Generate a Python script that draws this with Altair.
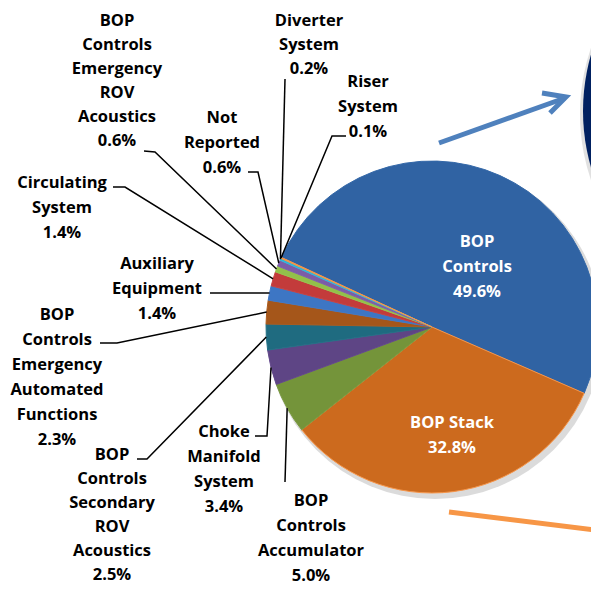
import math
import altair as alt
import pandas as pd

# ---------------- data ----------------
categories = [
    "BOP Controls", "BOP Stack", "BOP Controls Accumulator", "Choke Manifold System",
    "BOP Controls Secondary ROV Acoustics", "BOP Controls Emergency Automated Functions",
    "Auxiliary Equipment", "Circulating System", "BOP Controls Emergency ROV Acoustics",
    "Not Reported", "Diverter System", "Riser System",
]
values = [49.6, 32.8, 5.0, 3.4, 2.5, 2.3, 1.4, 1.4, 0.6, 0.6, 0.2, 0.1]
label_lines = [
    "BOP\nControls\n49.6%", "BOP Stack\n32.8%", "BOP\nControls\nAccumulator\n5.0%",
    "Choke\nManifold\nSystem\n3.4%", "BOP\nControls\nSecondary\nROV\nAcoustics\n2.5%",
    "BOP\nControls\nEmergency\nAutomated\nFunctions\n2.3%", "Auxiliary\nEquipment\n1.4%",
    "Circulating\nSystem\n1.4%", "BOP\nControls\nEmergency\nROV\nAcoustics\n0.6%",
    "Not\nReported\n0.6%", "Diverter\nSystem\n0.2%", "Riser\nSystem\n0.1%",
]

# ---------------- styles / layout ----------------
fill_colors = ["#3063a3", "#cc6a1e", "#74943a", "#5e4585", "#1f6b80", "#a5561a",
               "#3d76c4", "#c33b3b", "#92c04a", "#7c5ca8", "#2eb3d6", "#f5923e"]
stroke_colors = ["#3468a8", "#f7964a", "#7a9a40", "#64498c", "#247186", "#ab5b1e",
                 "#4279c6", "#c84242", "#98c450", "#8060ab", "#36b8da", "#f79646"]
label_colors = ["white", "white"] + ["black"] * 10
# labels near the page edges use a slightly tighter line height
edge_label = [0, 0, 0, 0, 1, 0, 0, 0, 1, 0, 1, 0]

OFF = 8  # page margin
W, H = 583, 577
CX, CY, R = 432 - OFF, 327 - OFF, 166
START_DEG = -65.2

# label anchor (center x, first baseline y) in page px
label_x = [477, 452, 311, 224, 112, 57, 157, 62, 117, 222, 309, 368]
label_y = [247, 428, 506, 437, 460, 320, 269, 188, 26, 123, 26, 87]
# leader line points near label (page px); None for in-slice labels
leader_pts = [
    None, None,
    [(285, 482)],
    [(255, 436), (267, 436)],
    [(137, 459), (147, 459)],
    [(100, 343), (117, 343)],
    [(210, 293)],
    [(113, 187), (125, 187)],
    [(144, 151), (155, 152)],
    [(248, 172), (258, 172)],
    [(285, 79)],
    [(346, 136), (332, 136)],
]

total = sum(values)
cum = 0.0
edge = []
for v in values:
    mid = START_DEG + (cum + v / 2) / total * 360.0
    cum += v
    a = math.radians(mid)
    edge.append((CX + R * math.sin(a), CY - R * math.cos(a)))

pie_df = pd.DataFrame({"cat": categories, "value": values, "idx": list(range(len(values)))})

text_df = pd.DataFrame({
    "txt": label_lines,
    "x": [x - OFF for x in label_x],
    "y": [y - OFF for y in label_y],
    "col": label_colors,
    "edge": edge_label,
})

rows = []
for i, pts in enumerate(leader_pts):
    if pts is None:
        continue
    seq = 0
    for (px, py) in pts:
        rows.append({"cat": categories[i], "seq": seq, "x": px - OFF, "y": py - OFF})
        seq += 1
    rows.append({"cat": categories[i], "seq": seq, "x": edge[i][0], "y": edge[i][1]})
leader_df = pd.DataFrame(rows)

# arrows (page px)
arrow_rows = [
    {"a": "blue_shaft", "seq": 0, "x": 439, "y": 143},
    {"a": "blue_shaft", "seq": 1, "x": 565, "y": 98},
    {"a": "blue_head", "seq": 0, "x": 542, "y": 93},
    {"a": "blue_head", "seq": 1, "x": 566, "y": 97},
    {"a": "blue_head", "seq": 2, "x": 550, "y": 113},
    {"a": "orange_shaft", "seq": 0, "x": 449, "y": 512},
    {"a": "orange_shaft", "seq": 1, "x": 603, "y": 531},
    {"a": "orange_head", "seq": 0, "x": 595, "y": 520},
    {"a": "orange_head", "seq": 1, "x": 606, "y": 532},
    {"a": "orange_head", "seq": 2, "x": 593, "y": 540},
]
arrow_df = pd.DataFrame(arrow_rows)
arrow_df["x"] = arrow_df["x"] - OFF
arrow_df["y"] = arrow_df["y"] - OFF
arrow_df["grp"] = arrow_df["a"].str.split("_").str[0]

one = pd.DataFrame({"k": [0]})
FONT = "Open Sans"
FS = 16.5

navy = alt.Chart(one).mark_arc(theta=0, theta2=2 * math.pi, outerRadius=203,
                               color="#002060").encode(
    x=alt.value(786 - OFF), y=alt.value(111 - OFF))
navy_shadow = alt.Chart(one).mark_arc(theta=0, theta2=2 * math.pi, outerRadius=205,
                                      color="#888888", opacity=0.25).encode(
    x=alt.value(786 - OFF - 1), y=alt.value(111 - OFF + 3))

pie_shadow = alt.Chart(one).mark_arc(theta=0, theta2=2 * math.pi, outerRadius=R + 2,
                                     color="#999999", opacity=0.35).encode(
    x=alt.value(CX + 3), y=alt.value(CY + 4))

start = math.radians(START_DEG)
pie = alt.Chart(pie_df).mark_arc(outerRadius=R, strokeWidth=1).encode(
    theta=alt.Theta("value:Q", stack=True,
                    scale=alt.Scale(range=[start, start + 2 * math.pi])),
    order=alt.Order("idx:Q"),
    color=alt.Color("cat:N", scale=alt.Scale(domain=categories, range=fill_colors), legend=None),
    stroke=alt.Stroke("cat:N", scale=alt.Scale(domain=categories, range=stroke_colors), legend=None),
    x=alt.value(CX), y=alt.value(CY),
)

leaders = alt.Chart(leader_df).mark_line(color="black", strokeWidth=1.5, strokeJoin="miter").encode(
    x=alt.X("x:Q", scale=None, axis=None),
    y=alt.Y("y:Q", scale=None, axis=None),
    detail="cat:N",
    order="seq:Q",
)


def text_layer(flag, lh):
    return alt.Chart(text_df).transform_filter(alt.datum.edge == flag).mark_text(
        font=FONT, fontSize=FS, fontWeight="bold", align="center",
        baseline="alphabetic", lineBreak="\n", lineHeight=lh).encode(
        x=alt.X("x:Q", scale=None, axis=None),
        y=alt.Y("y:Q", scale=None, axis=None),
        text="txt:N",
        color=alt.Color("col:N", scale=None),
    )


texts = text_layer(0, 25)
texts_edge = text_layer(1, 24)

arrows = alt.Chart(arrow_df).mark_line(strokeWidth=5, strokeJoin="miter", strokeCap="butt").encode(
    x=alt.X("x:Q", scale=None, axis=None),
    y=alt.Y("y:Q", scale=None, axis=None),
    detail="a:N",
    order="seq:Q",
    color=alt.Color("grp:N", scale=alt.Scale(domain=["blue", "orange"],
                                             range=["#4f81bd", "#f79646"]), legend=None),
)

chart = alt.layer(navy_shadow, navy, pie_shadow, pie, leaders, texts, texts_edge, arrows).properties(
    width=W, height=H, autosize=alt.AutoSizeParams(type="none"), padding=0,
).configure_view(stroke=None).resolve_scale(color="independent")

chart.save("out.html", embed_options={"renderer": "svg", "actions": False})
